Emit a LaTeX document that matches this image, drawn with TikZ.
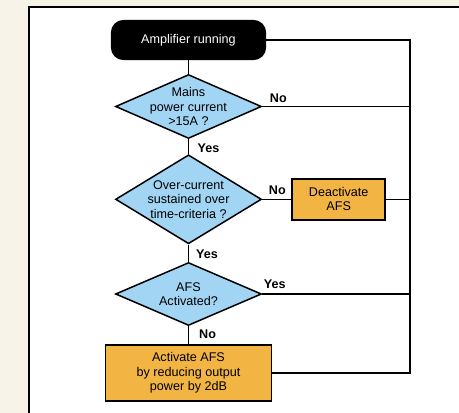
\documentclass[tikz,border=0pt]{standalone}
\usepackage{fontspec}
\setmainfont{Liberation Sans}
\usepackage{xcolor}
\usetikzlibrary{calc,positioning,shapes.geometric}
\definecolor{paper}{HTML}{F7F3E8}
\definecolor{askblue}{HTML}{A2D5F4}
\definecolor{doorange}{HTML}{F2B443}
\tikzset{%
	terminal/.style = {draw, fill=black, text=white, rounded corners=12pt, minimum width=154pt, minimum height=39pt, line width=1.2pt, font=\fontsize{12.6}{14.5}\selectfont},
	decision/.style = {draw, diamond, fill=askblue, inner sep=0pt, minimum width=146pt, line width=1.5pt}, % question
	asktext/.style  = {align=center, font=\fontsize{12.6}{14.5}\selectfont},
	process/.style  = {draw, rectangle, fill=doorange, inner sep=0pt, line width=1.8pt, align=center, font=\fontsize{12.6}{14.2}\selectfont},
	answer/.style   = {inner sep=0pt, font=\bfseries\fontsize{12.6}{14}\selectfont}, % Yes / No
	waypoint/.style = {coordinate},
	link/.style     = {line width=1.4pt},
}
\begin{document}
\begin{tikzpicture}[x=1pt, y=-1pt]
		\useasboundingbox (0,0) rectangle (459,413);
		\clip (0,0) rectangle (459,413);
		\fill[paper] (0,0) rectangle (459,413);
		\filldraw[fill=white, line width=2pt] (29,7.2) rectangle (480,430);
		% blocks
		\node[terminal] (start) at (188.5,40) {Amplifier running};
		\node[decision, minimum height=64pt, below of=start, node distance=66.5pt,
			label={[asktext]center:{Mains\\power current\\>15A ?}}] (mains) {};
		\node[decision, minimum height=89pt, below of=mains, node distance=92.8pt,
			label={[asktext]center:{Over-current\\sustained over\\time-criteria ?}}] (sustained) {};
		\node[decision, minimum height=63pt, below of=sustained, node distance=94.7pt,
			label={[asktext]center:{AFS\\Activated?}}] (afson) {};
		\node[process, minimum width=93pt, minimum height=41pt, right of=sustained, node distance=150.2pt] (deact) {Deactivate\\AFS};
		\node[process, minimum width=166pt, minimum height=56pt, below of=afson, node distance=78.8pt] (act) {Activate AFS\\by reducing output\\power by 2dB};
		\node[waypoint] (ret) at (410,40) {};
		% links
		\draw[link] (start) -- (mains);
		\draw[link] (mains) -- node[answer, pos=0, anchor=north west, shift={(8.5pt,-3.5pt)}] {Yes} (sustained);
		\draw[link] (sustained) -- node[answer, pos=0, anchor=north west, shift={(7pt,-4.4pt)}] {Yes} (afson);
		\draw[link] (afson) -- node[answer, pos=0, anchor=north west, shift={(10pt,-2.5pt)}] {No} (act);
		\draw[link] (mains) -- node[answer, pos=0, anchor=south west, shift={(7pt,3pt)}] {No} (mains -| ret);
		\draw[link] (sustained) -- node[answer, pos=0, anchor=south west, shift={(6pt,3.5pt)}] {No} (deact);
		\draw[link] (deact) -- (deact -| ret);
		\draw[link] (afson) -- node[answer, pos=0, anchor=south west, shift={(1pt,4.5pt)}] {Yes} (afson -| ret);
		\draw[link] (act) -- (act -| ret) -- (ret) -- (start);
		\end{tikzpicture}
\end{document}
